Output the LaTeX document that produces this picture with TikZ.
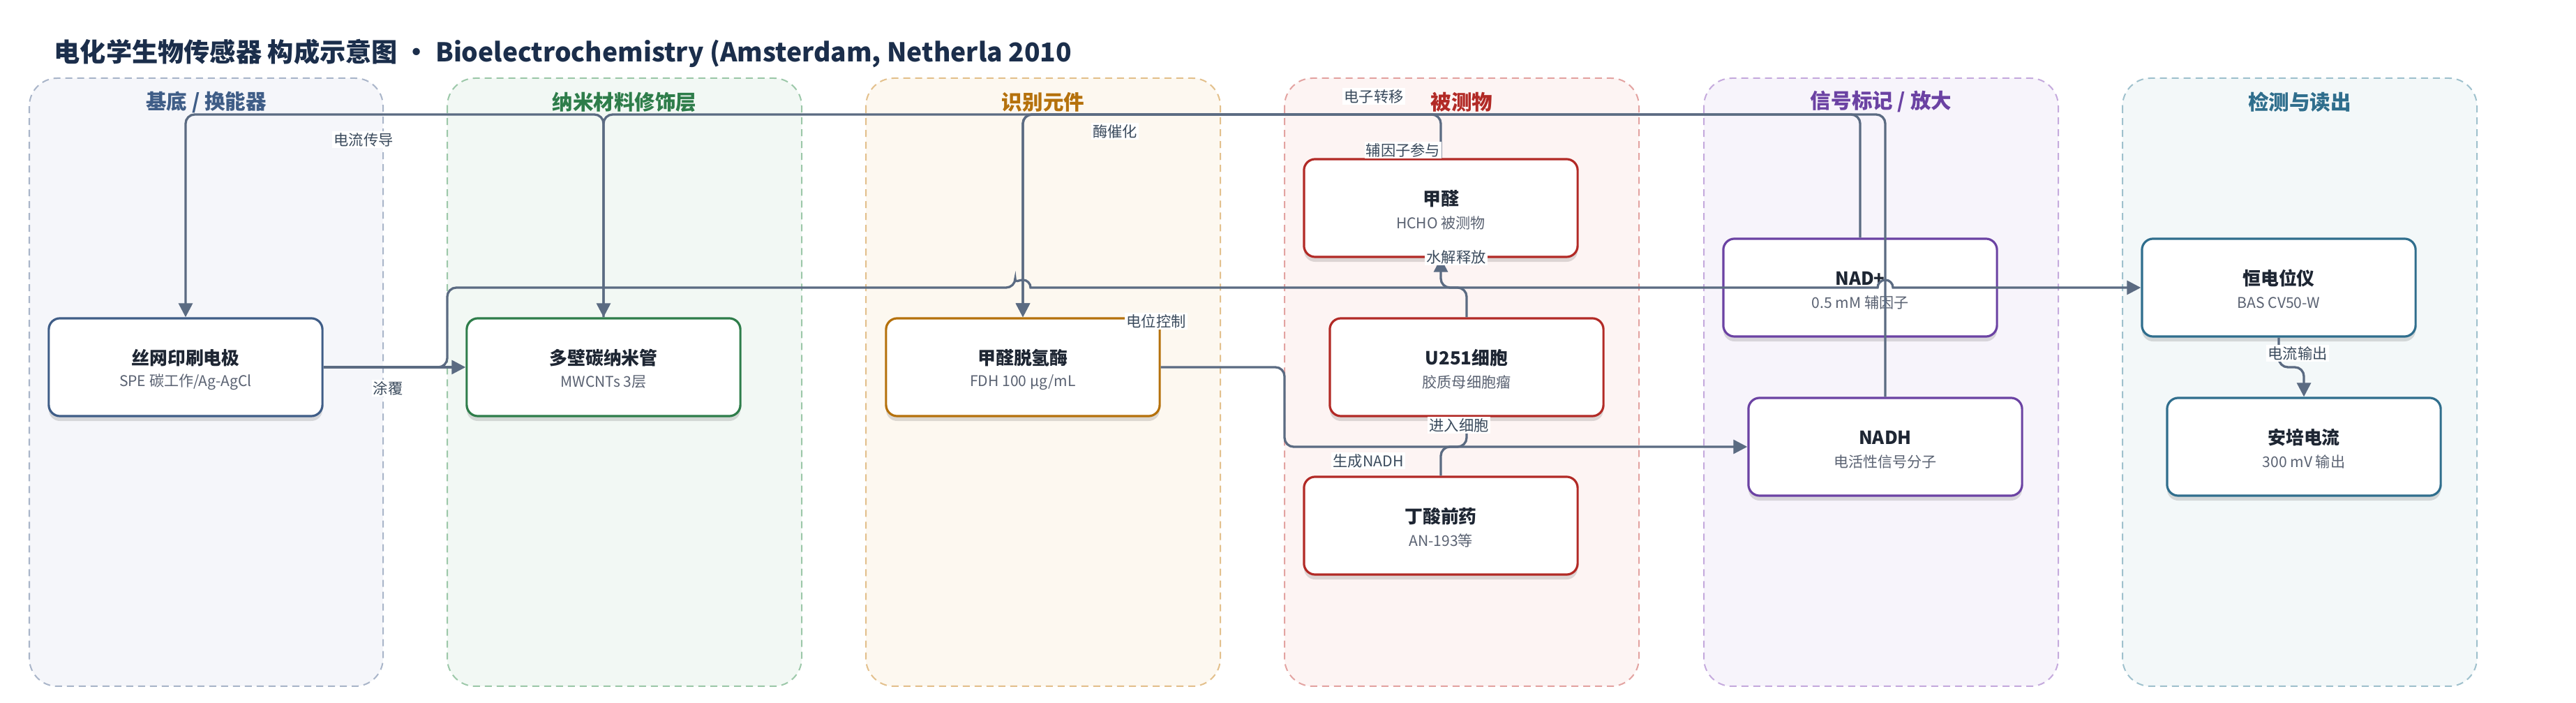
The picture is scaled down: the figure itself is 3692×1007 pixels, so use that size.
\documentclass[tikz,border=0pt]{standalone}
\usepackage{fontspec}
\setmainfont{Noto Sans CJK SC}
\usetikzlibrary{shadows,arrows.meta}
\definecolor{edgec}{HTML}{5B6B82}
\definecolor{lblc}{HTML}{3A4A5C}
\definecolor{subc}{HTML}{5A6272}
\definecolor{ttlc}{HTML}{1E2633}
\definecolor{headc}{HTML}{1B2E4B}
\definecolor{cA}{HTML}{3F5D87}\definecolor{fA}{HTML}{F5F6FA}\definecolor{dA}{HTML}{A9B5C9}
\definecolor{cB}{HTML}{2E7D4A}\definecolor{fB}{HTML}{F2F8F4}\definecolor{dB}{HTML}{9CC8A9}
\definecolor{cC}{HTML}{B5710C}\definecolor{fC}{HTML}{FDF8F0}\definecolor{dC}{HTML}{E3C08C}
\definecolor{cD}{HTML}{B22A26}\definecolor{fD}{HTML}{FDF4F3}\definecolor{dD}{HTML}{E3A3A1}
\definecolor{cE}{HTML}{6B42A3}\definecolor{fE}{HTML}{F7F4FB}\definecolor{dE}{HTML}{C5AADD}
\definecolor{cF}{HTML}{2F6E8D}\definecolor{fF}{HTML}{F3F8F9}\definecolor{dF}{HTML}{9FC1CD}
\tikzset{
  lane/.style={draw=#1, line width=0.02cm, dash pattern=on 0.1cm off 0.07cm, rounded corners=0.4cm},
  lanetitle/.style={font=\fontsize{8.4pt}{10pt}\selectfont\bfseries, text=#1},
  box/.style={draw=#1, line width=0.032cm, rounded corners=0.16cm, fill=white,
    minimum width=3.92cm, minimum height=1.40cm, inner sep=0pt,
    drop shadow={shadow xshift=0cm, shadow yshift=-0.07cm, opacity=0.13, fill=black}},
  ntitle/.style={font=\fontsize{7.35pt}{9pt}\selectfont\bfseries, text=ttlc, inner sep=0pt},
  nsub/.style={font=\fontsize{6pt}{7pt}\selectfont, text=subc, inner sep=0pt},
  edge/.style={draw=edgec, line width=0.033cm, rounded corners=0.13cm, -{Triangle[length=0.2cm,width=0.2cm]}},
  lbl/.style={fill=white, inner sep=0.6pt, font=\fontsize{6.05pt}{7pt}\selectfont, text=lblc}
}
\newcommand\mkbox[6]{%
  \node[box=#4] (#1) at (#2,#3) {};
  \node[ntitle] (#1-t) at ([yshift=0.135cm]#1.center) {#5};
  \node[nsub] (#1-s) at ([yshift=-0.215cm]#1.center) {#6};
}
\begin{document}
\begin{tikzpicture}[x=0.01cm,y=-0.01cm]
\useasboundingbox (0,0) rectangle (3692,1007);
% title
\node[anchor=west, font=\fontsize{10.58pt}{13pt}\selectfont\bfseries, text=headc, inner sep=0pt] (title) at (77,77)
  {电化学生物传感器 构成示意图 · Bioelectrochemistry (Amsterdam, Netherla 2010};
% lanes
\draw[lane=dA, fill=fA] (42,112) rectangle (549,983);
\draw[lane=dB, fill=fB] (641,112) rectangle (1149,983);
\draw[lane=dC, fill=fC] (1241,112) rectangle (1749,983);
\draw[lane=dD, fill=fD] (1841,112) rectangle (2349,983);
\draw[lane=dE, fill=fE] (2442,112) rectangle (2950,983);
\draw[lane=dF, fill=fF] (3042,112) rectangle (3550,983);
\node[lanetitle=cA] (l1) at (295.5,146) {基底 / 换能器};
\node[lanetitle=cB] (l2) at (895,146) {纳米材料修饰层};
\node[lanetitle=cC] (l3) at (1495,146) {识别元件};
\node[lanetitle=cD] (l4) at (2095,146) {被测物};
\node[lanetitle=cE] (l5) at (2696,146) {信号标记 / 放大};
\node[lanetitle=cF] (l6) at (3296,146) {检测与读出};
% nodes
\mkbox{spe}{266}{526}{cA}{丝网印刷电极}{SPE 碳工作/Ag-AgCl}
\mkbox{mw}{865}{526}{cB}{多壁碳纳米管}{MWCNTs 3层}
\mkbox{fdh}{1466}{526}{cC}{甲醛脱氢酶}{FDH 100 μg/mL}
\mkbox{hcho}{2065}{298}{cD}{甲醛}{HCHO 被测物}
\mkbox{u251}{2102}{526}{cD}{U251细胞}{胶质母细胞瘤}
\mkbox{prod}{2065}{753}{cD}{丁酸前药}{AN-193等}
\mkbox{nad}{2666}{412}{cE}{NAD+}{0.5 mM 辅因子}
\mkbox{nadh}{2702}{640}{cE}{NADH}{电活性信号分子}
\mkbox{pot}{3266}{412}{cF}{恒电位仪}{BAS CV50-W}
\mkbox{amp}{3302}{640}{cF}{安培电流}{300 mV 输出}
% edges
\draw[edge] (spe.east) -- (mw.west);
\draw[edge] (spe.east) [rounded corners=0.13cm] -- (641,526) -- (641,412) -- (1455,412) [sharp corners]
  arc[start angle=180, end angle=0, radius=0.11cm] -- (2691,412)
  arc[start angle=180, end angle=0, radius=0.11cm] -- (pot.west);
\draw[edge] (mw.north) -- (865,164) -- (266,164) -- (spe.north);
\draw[edge] (nadh.north) -- (2702,164) -- (865,164) -- (mw.north);
\draw[edge] (hcho.north) -- (2065,164) -- (1466,164) -- (fdh.north);
\draw[edge] (nad.north) -- (2666,164) -- (1466,164) -- (fdh.north);
\draw[edge] (u251.north) -- (2102,412) -- (2065,412) -- (hcho.south);
\draw[edge] (prod.north) -- (2065,640) -- (2102,640) -- (u251.south);
\draw[edge] (fdh.east) -- (1841,526) -- (1841,640) -- (nadh.west);
\draw[edge] (pot.south) -- (3266,526) -- (3302,526) -- (amp.north);
% edge labels
\node[lbl] (e1) at (556,556) {涂覆};
\node[lbl] (e2) at (1657,460) {电位控制};
\node[lbl] (e3) at (521,200) {电流传导};
\node[lbl] (e4) at (1969,138) {电子转移};
\node[lbl] (e5) at (1598,188) {酶催化};
\node[lbl] (e6) at (2011,215) {辅因子参与};
\node[lbl] (e7) at (2087,368) {水解释放};
\node[lbl] (e8) at (2091,609) {进入细胞};
\node[lbl] (e9) at (1961,660) {生成NADH};
\node[lbl] (e10) at (3293,506) {电流输出};
\end{tikzpicture}
\end{document}
